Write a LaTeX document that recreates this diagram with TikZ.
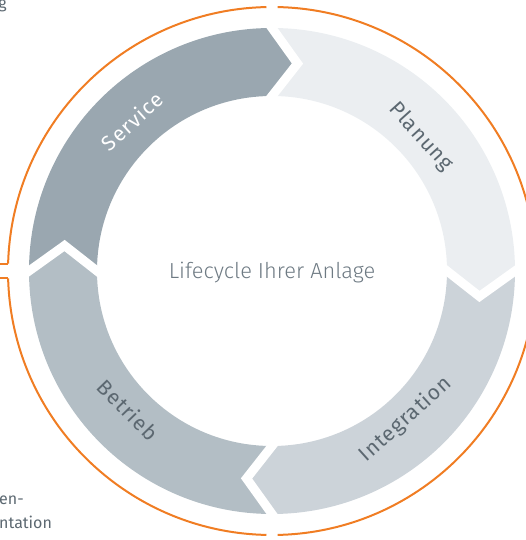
\documentclass[tikz,border=0pt]{standalone}
\usepackage{fontspec}
\setmainfont{Fira Sans}
\newfontfamily\lightfont{Fira Sans Light}
\usetikzlibrary{calc}

\definecolor{rimorange}{HTML}{F07D23}
\definecolor{serviceblue}{HTML}{9AA7B0}
\definecolor{planunggray}{HTML}{EBEEF1}
\definecolor{integrationgray}{HTML}{CCD3D9}
\definecolor{betriebgray}{HTML}{B3BEC5}
\definecolor{labelgray}{HTML}{5C6871}
\definecolor{centergray}{HTML}{6E7A83}

\tikzset{
  seglabel/.style={font=\fontsize{21}{21}\selectfont\addfontfeature{LetterSpace=5}, text=labelgray},
  gapline/.style={white, line width=9pt, line join=miter},
  rim/.style={rimorange, line width=2pt},
  sidetext/.style={font=\fontsize{16}{24}\selectfont, text=labelgray, align=left},
}

\begin{document}
\begin{tikzpicture}[x=1pt,y=1pt]
	\useasboundingbox (0,0) rectangle (525,540);
	\begin{scope}[shift={(272,269)}]
		% ring segments
		\fill[serviceblue] (180:243) arc (180:90:243) -- (83:209) -- (90:175) arc (90:180:175) -- (173:209) -- cycle;
		\fill[planunggray] (90:243) arc (90:0:243) -- (-7:209) -- (0:175) arc (0:90:175) -- (83:209) -- cycle;
		\fill[integrationgray] (0:243) arc (0:-90:243) -- (-97:209) -- (-90:175) arc (-90:0:175) -- (-7:209) -- cycle;
		\fill[betriebgray] (-90:243) arc (-90:-180:243) -- (173:209) -- (180:175) arc (180:270:175) -- (-97:209) -- cycle;
		% white gaps
		\foreach \a in {90,0,-90,180}{
			\draw[gapline] ($(\a-7:209)!1.3!(\a:243)$) -- (\a-7:209) -- ($(\a-7:209)!1.3!(\a:175)$);
		}
		% orange rim
		\coordinate (rimtop) at (178.4:264);
		\coordinate (rimbot) at (181.6:264);
		\draw[rim] (rimtop) arc (178.4:91.2:264);
		\draw[rim] (88.8:264) arc (88.8:-88.8:264);
		\draw[rim] (-91.2:264) arc (-91.2:-178.4:264);
		\coordinate (outtop) at (-285,0 |- rimtop);
		\coordinate (outbot) at (-285,0 |- rimbot);
		\draw[rim] (rimtop) -- (outtop);
		\draw[rim] (rimbot) -- (outbot);
		% labels
		\node[seglabel, text=white, rotate=42] (service) at (133:205) {Service};
		\node[seglabel, rotate=-48] (planung) at (42:200) {Planung};
		\node[seglabel, rotate=42] (integration) at (-48:200) {Integration};
		\node[seglabel, rotate=-46] (betrieb) at (224:200) {Betrieb};
		\node[font=\lightfont\fontsize{21.8}{21.8}\selectfont, text=centergray] (lifecycle) at (0,-2) {Lifecycle Ihrer Anlage};
	\end{scope}
	% cut text at the border
	\node[sidetext, anchor=base east, inner sep=0pt] (topg) at (7,531) {g};
	\node[sidetext, anchor=base west, inner sep=0pt] (doku) at (-1,35) {en-};
	\node[sidetext, anchor=base west, inner sep=0pt] (doku2) at (-1,11) {ntation};
\end{tikzpicture}
\end{document}
